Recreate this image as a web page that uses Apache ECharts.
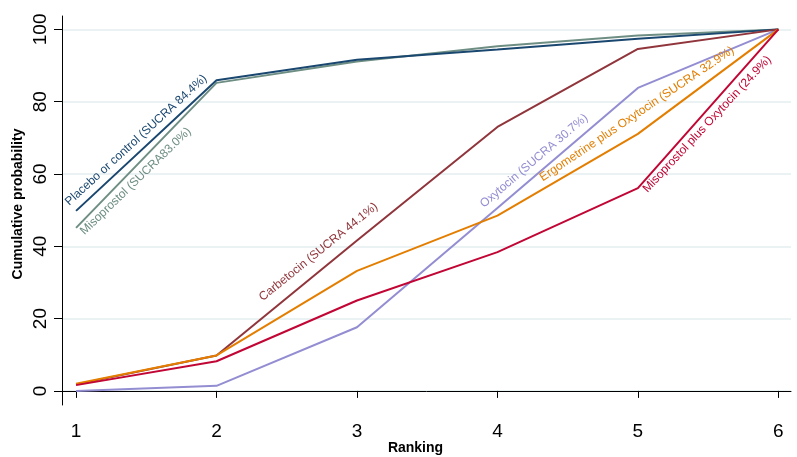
<!DOCTYPE html>
<html>
<head>
<meta charset="utf-8">
<script src="https://cdn.jsdelivr.net/npm/echarts@6/dist/echarts.min.js"></script>
<style>
html,body{margin:0;padding:0;background:#fff;}
#chart{width:797px;height:457px;}
</style>
</head>
<body>
<div id="chart"></div>
<script>
// ---- data ----
var ranks = [1, 2, 3, 4, 5, 6];
var yTicks = [0, 20, 40, 60, 80, 100];
var xTicks = [1, 2, 3, 4, 5, 6];
var placebo      = [49.8, 85.9, 91.6, 94.4, 97.4, 100];
var misoprostol  = [45.1, 85.2, 91.1, 95.3, 98.3, 100];
var carbetocin   = [1.8, 9.8, 41.6, 73.0, 94.6, 100];
var ergometrine  = [2.0, 9.8, 33.2, 48.5, 71.1, 100];
var oxytocin     = [0.0, 1.4, 17.6, 50.6, 83.8, 100];
var misoOxy      = [1.6, 8.2, 25.0, 38.4, 56.1, 100];

var seriesNames = [
  'Misoprostol (SUCRA83.0%)',
  'Placebo or control (SUCRA 84.4%)',
  'Oxytocin (SUCRA 30.7%)',
  'Carbetocin (SUCRA 44.1%)',
  'Ergometrine plus Oxytocin (SUCRA 32.9%)',
  'Misoprostol plus Oxytocin (24.9%)'
];
var seriesData = [misoprostol, placebo, oxytocin, carbetocin, ergometrine, misoOxy];
var colors = ['#6e8e84', '#1a476f', '#938dd2', '#90353b', '#e37e00', '#c10534'];

// label annotations: anchor (data coords), angle, vertical alignment
var labelText = seriesNames;
var labelAnchorX = [1.015, 0.965, 3.917, 2.341, 4.334, 5.082];
var labelAnchorY = [44.9, 50.6, 50.0, 24.2, 57.3, 54.2];
var labelAngle   = [44, 42.5, 40.5, 39, 34, 47];
var labelVAlign  = ['top', 'bottom', 'bottom', 'bottom', 'bottom', 'bottom'];

var FONT = '"Liberation Sans", Arial, sans-serif';
var chart = echarts.init(document.getElementById('chart'), null, {renderer: 'canvas'});

var series = seriesData.map(function (d, i) {
  return {
    type: 'line',
    name: seriesNames[i],
    data: ranks.map(function (r, j) { return [r, d[j]]; }),
    symbol: 'none',
    smooth: false,
    lineStyle: {color: colors[i], width: 2},
    itemStyle: {color: colors[i]},
    silent: true,
    animation: false
  };
});

chart.setOption({
  animation: false,
  backgroundColor: '#ffffff',
  grid: {left: 62, right: 6, top: 16, bottom: 52, containLabel: false, outerBoundsMode: 'none'},
  xAxis: {
    type: 'value',
    min: 0.9, max: 6.09,
    name: 'Ranking',
    nameLocation: 'middle',
    nameGap: 36,
    nameMoveOverlap: false,
    nameTextStyle: {fontFamily: FONT, fontWeight: 'bold', fontSize: 14, color: '#000', padding: [0, 22, 0, 0]},
    axisLine: {show: true, lineStyle: {color: '#000', width: 1}},
    axisTick: {show: true, length: 7, customValues: xTicks, lineStyle: {color: '#000'}},
    axisLabel: {customValues: xTicks, fontFamily: FONT, fontSize: 19, color: '#000', margin: 17},
    splitLine: {show: false}
  },
  yAxis: {
    type: 'value',
    min: -3.9, max: 103.7,
    name: 'Cumulative probability',
    nameLocation: 'middle',
    nameGap: 37,
    nameMoveOverlap: false,
    nameTextStyle: {fontFamily: FONT, fontWeight: 'bold', fontSize: 14, color: '#000', padding: [0, 0, 0, 13]},
    axisLine: {show: true, lineStyle: {color: '#000', width: 1}},
    axisTick: {show: true, length: 8, customValues: yTicks, lineStyle: {color: '#000'}},
    axisLabel: {customValues: yTicks, rotate: 90, fontFamily: FONT, fontSize: 19, color: '#000', margin: 12},
    splitLine: {show: true, lineStyle: {color: '#eaf2f3', width: 2}}
  },
  series: series
});

var graphics = labelText.map(function (t, i) {
  var p = chart.convertToPixel({gridIndex: 0}, [labelAnchorX[i], labelAnchorY[i]]);
  return {
    type: 'text',
    x: p[0], y: p[1],
    rotation: labelAngle[i] * Math.PI / 180,
    silent: true,
    z: 100,
    style: {
      text: t,
      fill: colors[i],
      font: '12px ' + FONT,
      textAlign: 'left',
      textVerticalAlign: labelVAlign[i]
    }
  };
});
chart.setOption({graphic: graphics});
</script>
</body>
</html>
